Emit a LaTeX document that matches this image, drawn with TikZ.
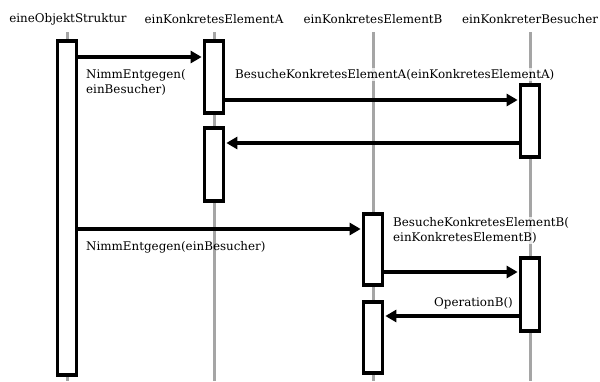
\documentclass[tikz,border=0pt]{standalone}
\usepackage{fontspec}
\setmainfont{DejaVu Serif}
\usetikzlibrary{arrows.meta}
\definecolor{lifegray}{RGB}{165,165,165}
\begin{document}
\begin{tikzpicture}[x=1pt,y=-1pt,
  hdr/.style={font=\fontsize{11.9}{14}\selectfont, inner sep=0pt, anchor=center},
  life/.style={draw=lifegray, line width=3pt},
  act/.style={draw=black, fill=white, line width=3.2pt, minimum width=19.5pt, inner sep=0pt},
  msg/.style={draw=black, line width=3.2pt, -{Triangle[length=11pt,width=12pt]}, shorten >=1pt},
  lbl/.style={font=\fontsize{11.9}{15}\selectfont, inner sep=1pt, align=left, anchor=west},
  lblbg/.style={lbl, fill=white, fill opacity=0.75, text opacity=1}
]
\useasboundingbox (0,0) rectangle (600,381);
% headers
\node[hdr] (hos) at (68,19) {eineObjektStruktur};
\node[hdr] (ha) at (214,19) {einKonkretesElementA};
\node[hdr] (hb) at (373,19) {einKonkretesElementB};
\node[hdr] (hv) at (530,19) {einKonkreterBesucher};
% lifelines
\coordinate (los) at (67,32);   \coordinate (bos) at (67,381);
\coordinate (la) at (214,32);   \coordinate (ba) at (214,381);
\coordinate (lb) at (373,32);   \coordinate (bb) at (373,381);
\coordinate (lv) at (530,32);   \coordinate (bv) at (530,381);
\draw[life] (los) -- (bos);
\draw[life] (la) -- (ba);
\draw[life] (lb) -- (bb);
\draw[life] (lv) -- (bv);
% activations
\node[act, minimum height=334pt] (os) at (67,208) {};
\node[act, minimum height=72pt] (a1) at (214,77) {};
\node[act, minimum height=73pt] (a2) at (214,164.5) {};
\node[act, minimum height=72pt] (v1) at (530,121) {};
\node[act, minimum height=71pt] (b1) at (373,249.5) {};
\node[act, minimum height=71pt] (b2) at (373,337.5) {};
\node[act, minimum height=73pt] (v2) at (530,294.5) {};
% messages
\draw[msg] (os.east |- 0,57) -- (a1.west |- 0,57);
\draw[msg] (a1.east |- 0,100) -- (v1.west |- 0,100);
\draw[msg] (v1.west |- 0,143) -- (a2.east |- 0,143);
\draw[msg] (os.east |- 0,229) -- (b1.west |- 0,229);
\draw[msg] (b1.east |- 0,272) -- (v2.west |- 0,272);
\draw[msg] (v2.west |- 0,316) -- (b2.east |- 0,316);
% labels
\node[lbl] (l1) at (85,82.5) {NimmEntgegen(\\einBesucher)};
\node[lblbg] (l2) at (234,74.5) {BesucheKonkretesElementA(einKonkretesElementA)};
\node[lbl] (l4) at (85,247) {NimmEntgegen(einBesucher)};
\node[lblbg] (l5) at (392,230.5) {BesucheKonkretesElementB(\\einKonkretesElementB)};
\node[lbl, anchor=east] (l6) at (514,303) {OperationB()};
\end{tikzpicture}
\end{document}
